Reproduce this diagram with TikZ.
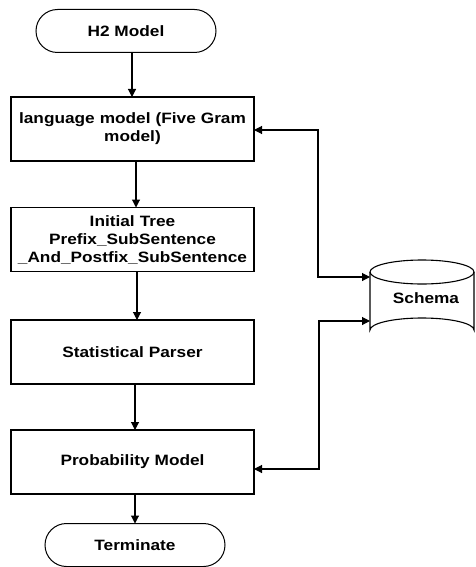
\documentclass[tikz,border=0pt]{standalone}
\usepackage{fontspec}
\setmainfont{Liberation Sans}[FakeStretch=1.15]
\usetikzlibrary{arrows.meta,shapes.misc}
\begin{document}
\begin{tikzpicture}[x=1pt,y=-1pt,
  font=\bfseries\fontsize{15}{18}\selectfont,
  every node/.style={inner sep=0pt,outer sep=0pt},
  stepbox/.style={draw,line width=1.1pt,minimum width=243pt,minimum height=64pt,align=center,text width=242pt},
  term/.style={draw,line width=1pt,rounded rectangle,minimum width=180pt,minimum height=43pt},
  arr/.style={line width=1.1pt,-{Triangle[length=8pt,width=8pt]}},
  darr/.style={line width=1.1pt,{Triangle[length=8pt,width=8pt]}-{Triangle[length=8pt,width=8pt]}}]
\useasboundingbox (0,0) rectangle (476,567);
\node[term] (h2) at (126,31) {H2 Model};
\node[stepbox] (b1) at (132.5,129) {language model (Five Gram\\model)};
\node[stepbox] (b2) at (132.5,239.5) {Initial Tree\\Prefix\_SubSentence\\\_And\_Postfix\_SubSentence};
\node[stepbox] (b3) at (132.5,352) {Statistical Parser};
\node[stepbox] (b4) at (132.5,462) {Probability Model};
\node[term] (t) at (135,545) {Terminate};
% cylinder
\draw[line width=1.1pt] (370,272) -- (370,330) arc[start angle=180,end angle=360,x radius=52,y radius=12] -- (474,272);
\draw[line width=1.1pt] (422,272) ellipse[x radius=52,y radius=12];
\node (schema) at (426,298) {Schema};
\coordinate (s1) at (370,277);
\coordinate (s2) at (370,321);
\draw[arr] (h2.south -| 132,0) -- (b1.north -| 132,0);
\draw[arr] (b1.south -| 136,0) -- (b2.north -| 136,0);
\draw[arr] (b2.south -| 137,0) -- (b3.north -| 137,0);
\draw[arr] (b3.south -| 135,0) -- (b4.north -| 135,0);
\draw[arr] (b4.south -| 135,0) -- (t.north -| 135,0);
\draw[darr] (s1) -- (318,277) |- (b1.east |- 0,130);
\draw[darr] (s2) -- (319,321) |- (b4.east |- 0,469);
\end{tikzpicture}
\end{document}
